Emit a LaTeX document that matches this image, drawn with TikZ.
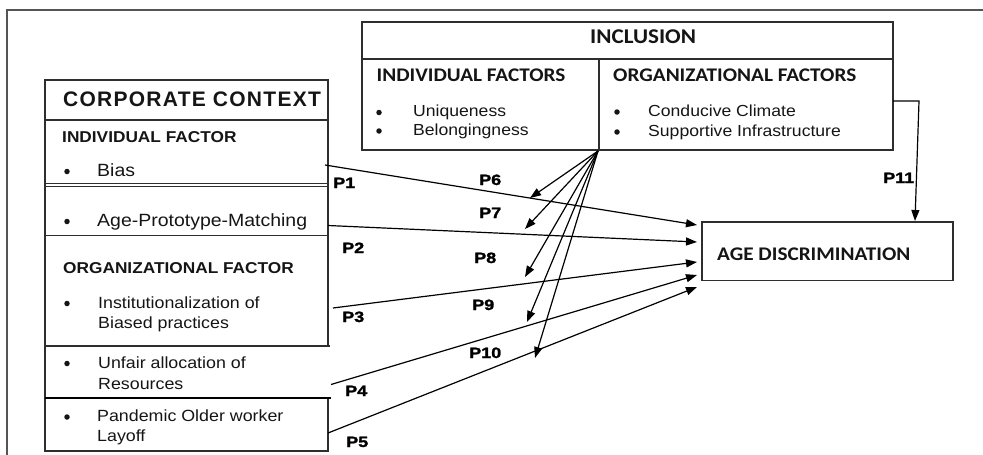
\documentclass[tikz,border=0pt]{standalone}
\usepackage{fontspec}
\setmainfont{Liberation Sans}[FakeStretch=1.1]
\newfontfamily\titlefont{Liberation Sans}[LetterSpace=6]
\newfontfamily\calfont{Carlito}[FakeStretch=1.1]
\newfontfamily\pfont{Liberation Sans}[FakeStretch=1.2, FakeBold=1.6]
\usetikzlibrary{arrows.meta}

\definecolor{ink}{HTML}{151515}
\definecolor{rule}{HTML}{2E2E2E}
\definecolor{framegray}{HTML}{555555}

\tikzset{
  frameline/.style={draw=framegray, line width=1.6pt},
  boxline/.style={draw=rule, line width=1.5pt},
  thinline/.style={draw=rule, line width=0.9pt},
  bodytxt/.style={anchor=base west, inner sep=0pt, text=ink, font=\fontsize{17.7}{21}\selectfont},
  lowtxt/.style={anchor=base west, inner sep=0pt, text=ink, font=\fontsize{16.2}{19}\selectfont},
  inctxt/.style={anchor=base west, inner sep=0pt, text=ink, font=\fontsize{16}{19}\selectfont},
  hdrtxt/.style={anchor=base west, inner sep=0pt, text=ink, font=\fontsize{15.7}{19}\selectfont\bfseries},
  caltxt/.style={anchor=base west, inner sep=0pt, text=ink, font=\calfont\fontsize{19.3}{23}\selectfont\bfseries},
  plabel/.style={anchor=base west, inner sep=0pt, text=black, font=\pfont\fontsize{15}{18}\selectfont\bfseries},
  bul/.style={circle, fill=ink, inner sep=0pt, minimum size=5.5pt},
  link/.style={draw=black, line width=1.2pt, -{Triangle[length=11pt,width=8pt]}}
}

\begin{document}
\begin{tikzpicture}[x=1pt,y=-1pt]
\useasboundingbox (0,0) rectangle (983,455);

% outer frame
\draw[frameline] (7,455) -- (7,10) -- (983,10);

% ---------- corporate context panel ----------
\draw[boxline] (328,346) -- (328,80) -- (45,80) -- (45,451) -- (328,451) -- (328,398);
\draw[boxline] (45,120) -- (328,120);
\draw[thinline] (45,183) -- (328,183);
\draw[thinline] (45,186) -- (328,186);
\draw[thinline] (45,235) -- (328,235);
\draw[boxline] (45,346) -- (330,346);
\draw[draw=black, line width=2.3pt] (45,398) -- (331,398);

\node[anchor=base west, inner sep=0pt, text=ink, font=\titlefont\fontsize{21}{25}\selectfont\bfseries] (cc) at (63,106) {CORPORATE CONTEXT};
\node[hdrtxt] (indf) at (62,142) {INDIVIDUAL FACTOR};
\node[bul] (b1) at (67,171.5) {};
\node[bodytxt] (bias) at (97,176) {Bias};
\node[bul] (b2) at (67,221.5) {};
\node[bodytxt] (apm) at (97,226) {Age-Prototype-Matching};
\node[hdrtxt] (orgf) at (63,273) {ORGANIZATIONAL FACTOR};
\node[bul] (b3) at (67,303.5) {};
\node[lowtxt] (inst1) at (98,308) {Institutionalization of};
\node[lowtxt] (inst2) at (98,328) {Biased practices};
\node[bul] (b4) at (67,363.5) {};
\node[lowtxt] (unf1) at (98,368) {Unfair allocation of};
\node[lowtxt] (unf2) at (98,389) {Resources};
\node[bul] (b5) at (67,417) {};
\node[lowtxt] (pan1) at (97,421.5) {Pandemic Older worker};
\node[lowtxt] (pan2) at (97,441.5) {Layoff};

% ---------- inclusion panel ----------
\draw[boxline] (362,22) rectangle (893,150);
\draw[boxline] (362,59) -- (893,59);
\draw[boxline] (599,59) -- (599,150);
\node[caltxt, font=\calfont\fontsize{21}{25}\selectfont\bfseries] (inc) at (590,43) {INCLUSION};
\node[caltxt] (incind) at (376.5,81.5) {INDIVIDUAL FACTORS};
\node[bul] (ib1) at (379,112.5) {};
\node[inctxt] (uniq) at (413,116.5) {Uniqueness};
\node[bul] (ib2) at (379,131) {};
\node[inctxt] (belong) at (413,135) {Belongingness};
\node[caltxt] (incorg) at (613,81) {ORGANIZATIONAL FACTORS};
\node[bul] (ob1) at (617,112) {};
\node[inctxt] (clim) at (648,116) {Conducive Climate};
\node[bul] (ob2) at (617,132) {};
\node[inctxt] (infra) at (648,136) {Supportive Infrastructure};

% ---------- outcome ----------
\node[boxline, draw, anchor=north west, inner sep=0pt, minimum width=251pt, minimum height=58.5pt] (age) at (701,221) {};
\node[caltxt] (agetxt) at (717,260.5) {AGE DISCRIMINATION};

% ---------- connector end points ----------
\coordinate (s1) at (325,165);
\coordinate (s2) at (328,225.5);
\coordinate (s3) at (333,308);
\coordinate (s4) at (331,384.5);
\coordinate (s5) at (328,433);
\coordinate (t1) at (697,225);
\coordinate (t2) at (697,242);
\coordinate (t3) at (697,262);
\coordinate (t4) at (697,275);
\coordinate (t5) at (697,287);

\coordinate (fan) at (598,151);
\coordinate (f6) at (530,198);
\coordinate (f7) at (525,229);
\coordinate (f8) at (525,277);
\coordinate (f9) at (527,322);
\coordinate (f10) at (535,358);

\coordinate (o11) at (893,101);
\coordinate (k11) at (919,101);
\coordinate (t11) at (915,221);

% corporate factors to age discrimination
\draw[link] (s1) -- (t1);
\draw[link] (s2) -- (t2);
\draw[link] (s3) -- (t3);
\draw[link] (s4) -- (t4);
\draw[link] (s5) -- (t5);

% inclusion moderating paths
\draw[link] (fan) -- (f6);
\draw[link] (fan) -- (f7);
\draw[link] (fan) -- (f8);
\draw[link] (fan) -- (f9);
\draw[link] (fan) -- (f10);

% direct inclusion path
\draw[link] (o11) -- (k11) -- (t11);

% path labels
\node[plabel] (lp1) at (333,188) {P1};
\node[plabel] (lp2) at (342,253) {P2};
\node[plabel] (lp3) at (342,322) {P3};
\node[plabel] (lp4) at (345,396) {P4};
\node[plabel] (lp5) at (346,447) {P5};
\node[plabel] (lp6) at (479,185) {P6};
\node[plabel] (lp7) at (479,218) {P7};
\node[plabel] (lp8) at (474,263) {P8};
\node[plabel] (lp9) at (472,310) {P9};
\node[plabel] (lp10) at (469,358) {P10};
\node[plabel] (lp11) at (883,183) {P11};
\end{tikzpicture}
\end{document}
